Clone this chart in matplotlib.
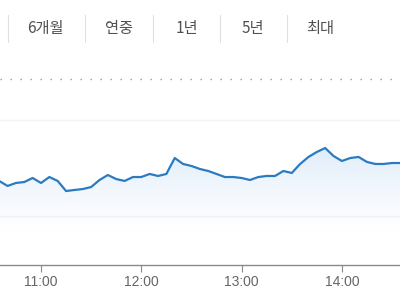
import numpy as np
import matplotlib
matplotlib.use('Agg')
import matplotlib.pyplot as plt
from matplotlib.patches import Polygon

plt.rcParams['font.family'] = ['Liberation Sans', 'Noto Sans CJK KR', 'DejaVu Sans']

# range buttons on top
buttons = ['6개월', '연중', '1년', '5년', '최대']
button_x = [45, 119, 187, 253, 320]
sep_x = [8, 85, 153, 220, 287]

# 5-minute prices, 10:35 .. 14:35
start_min = 10 * 60 + 35
prices = [2003.65, 2003.13, 2003.44, 2003.54, 2003.96, 2003.44, 2004.06, 2003.65,
          2002.60, 2002.71, 2002.81, 2003.02, 2003.75, 2004.27, 2003.85, 2003.65,
          2004.06, 2004.06, 2004.38, 2004.17, 2004.38, 2006.04, 2005.42, 2005.21,
          2004.90, 2004.69, 2004.38, 2004.06, 2004.06, 2003.96, 2003.75, 2004.06,
          2004.17, 2004.17, 2004.69, 2004.48, 2005.42, 2006.15, 2006.67, 2007.08,
          2006.25, 2005.73, 2006.04, 2006.15, 2005.63, 2005.42, 2005.42, 2005.52,
          2005.52]
prev_close = 2014.27
grid_vals = [2000, 2010]
tick_hours = [11, 12, 13, 14]
tick_labels = ['11:00', '12:00', '13:00', '14:00']

t = (start_min + 5 * np.arange(len(prices))) / 60.0
y = np.array(prices)

fig = plt.figure(figsize=(4, 3), dpi=100)
fig.patch.set_facecolor('white')

# top bar (pixel coords)
top = fig.add_axes([0, 0, 1, 1])
top.set_xlim(0, 400)
top.set_ylim(300, 0)
top.axis('off')
for sx in sep_x:
    top.plot([sx, sx], [15, 42], color='#e0e0e0', lw=0.8)
for bx, lab in zip(button_x, buttons):
    top.text(bx, 29, lab, ha='center', va='center', fontsize=11, color='#505050',
             family=['Noto Sans CJK KR', 'DejaVu Sans'])

ax = fig.add_axes([0, 35 / 300, 1, 205 / 300])
x0 = 11 - 41 / 100.3
ax.set_xlim(x0, x0 + 400 / 100.3)
ax.set_ylim(2000 - 49 / 9.6, 2000 + 156 / 9.6)
ax.set_facecolor('none')

for g in grid_vals:
    ax.axhline(g, color='#f3f3f3', lw=1, zorder=0)
ax.axhline(prev_close, color='#9a9a9a', lw=1.0, linestyle=(0, (1.0, 6.2)), zorder=1)

# gradient fill under the line, fading out before the baseline
ymin, ymax = ax.get_ylim()
fade_low = 1998.0
grad = np.linspace(0, 1, 256)
rgba = np.zeros((256, 1, 4))
rgba[:, 0, 0] = 0.86
rgba[:, 0, 1] = 0.92
rgba[:, 0, 2] = 0.98
rgba[:, 0, 3] = grad ** 1.2 * 0.85
img = ax.imshow(rgba, extent=[t[0], t[-1], fade_low, y.max()], origin='lower',
                aspect='auto', zorder=2)
verts = np.vstack([np.column_stack([t, y]), [[t[-1], ymin], [t[0], ymin]]])
poly = Polygon(verts, closed=True, facecolor='none', edgecolor='none')
ax.add_patch(poly)
img.set_clip_path(poly)

ax.plot(t, y, color='#2b7bc2', lw=1.6, zorder=3, solid_joinstyle='round')

for s in ['top', 'right', 'left']:
    ax.spines[s].set_visible(False)
ax.spines['bottom'].set_color('#8a8a8a')
ax.spines['bottom'].set_linewidth(1)
ax.set_yticks([])
ax.set_xticks(tick_hours)
ax.set_xticklabels(tick_labels)
ax.tick_params(axis='x', length=5, width=0.8, color='#8a8a8a', pad=2,
               labelsize=10, labelcolor='#666666')
ax.set_xlim(x0, x0 + 400 / 100.3)
ax.set_ylim(ymin, ymax)

fig.savefig('out.png', dpi=100)
